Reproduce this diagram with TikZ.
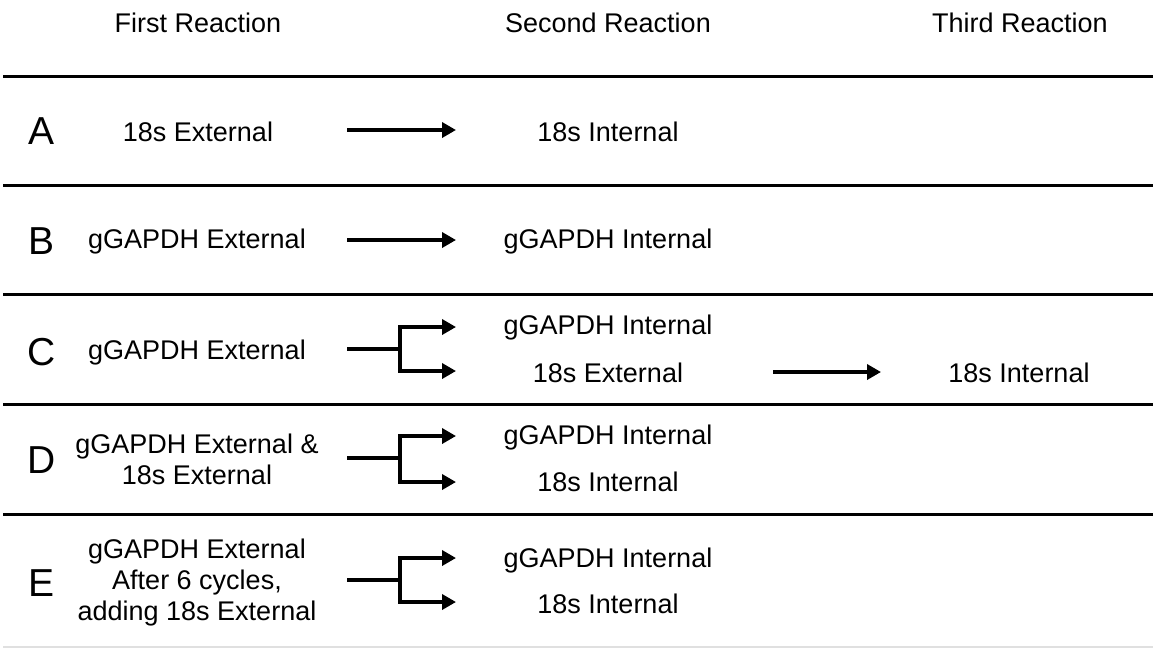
\documentclass[tikz,border=0pt]{standalone}
\usepackage{fontspec}
\setmainfont{Liberation Sans}
\usetikzlibrary{arrows.meta}
\definecolor{gris}{rgb}{0.88,0.88,0.88}

\begin{document}
\begin{tikzpicture}[x=1pt,y=-1pt]
	\tikzstyle{txt}=[font=\fontsize{27}{31}\selectfont, align=center, inner sep=0pt]
	\tikzstyle{lettre}=[font=\fontsize{39}{40}\selectfont, inner sep=0pt]
	\tikzstyle{regle}=[line width=3pt]
	\tikzstyle{fleche}=[line width=4.5pt, -{Triangle[length=14pt,width=15pt]}]
	\tikzstyle{branche}=[line width=4.5pt]

	\useasboundingbox (0,0) rectangle (1153,649);

	% TITRES
	\node[txt] (T1) at (198,23) {First Reaction};
	\node[txt] (T2) at (608,23) {Second Reaction};
	\node[txt] (T3) at (1020,23) {Third Reaction};

	% REGLES
	\draw[regle] (3,76) -- (1153,76);
	\draw[regle] (3,185) -- (1153,185);
	\draw[regle] (3,294) -- (1153,294);
	\draw[regle] (3,404) -- (1153,404);
	\draw[regle] (3,514) -- (1153,514);
	\draw[line width=2pt, gris] (3,647) -- (1153,647);

	% LETTRES
	\node[lettre] (LA) at (42,131) {A};
	\node[lettre] (LB) at (42,241) {B};
	\node[lettre] (LC) at (42,352) {C};
	\node[lettre] (LD) at (42,460) {D};
	\node[lettre] (LE) at (42,583) {E};

	% PREMIERE REACTION
	\node[txt] (A1) at (198,132) {18s External};
	\node[txt] (B1) at (197,242) {gGAPDH External};
	\node[txt] (C1) at (197,353) {gGAPDH External};
	\node[txt] (D1) at (197,459) {gGAPDH External \&\\18s External};
	\node[txt] (E1) at (197,583) {gGAPDH External\\After 6 cycles,\\adding 18s External};

	% DEUXIEME REACTION
	\node[txt] (A2) at (608,132) {18s Internal};
	\node[txt] (B2) at (608,242) {gGAPDH Internal};
	\node[txt] (C2a) at (608,328) {gGAPDH Internal};
	\node[txt] (C2b) at (608,373) {18s External};
	\node[txt] (D2a) at (608,438) {gGAPDH Internal};
	\node[txt] (D2b) at (608,482) {18s Internal};
	\node[txt] (E2a) at (608,561) {gGAPDH Internal};
	\node[txt] (E2b) at (608,604) {18s Internal};

	% TROISIEME REACTION
	\node[txt] (C3) at (1019,373) {18s Internal};

	% FLECHES
	\coordinate (pA) at (347,130);
	\coordinate (qA) at (456,130);
	\coordinate (pB) at (347,240);
	\coordinate (qB) at (456,240);
	\draw[fleche] (pA) -- (qA);
	\draw[fleche] (pB) -- (qB);

	\coordinate (pC) at (347,349);
	\coordinate (fC) at (400,349);
	\coordinate (qCa) at (456,327);
	\coordinate (qCb) at (456,371);
	\draw[branche] (pC) -- (fC);
	\draw[fleche] (fC) |- (qCa);
	\draw[fleche] (fC) |- (qCb);

	\coordinate (pD) at (347,458);
	\coordinate (fD) at (400,458);
	\coordinate (qDa) at (456,436);
	\coordinate (qDb) at (456,482);
	\draw[branche] (pD) -- (fD);
	\draw[fleche] (fD) |- (qDa);
	\draw[fleche] (fD) |- (qDb);

	\coordinate (pE) at (347,580);
	\coordinate (fE) at (400,580);
	\coordinate (qEa) at (456,558);
	\coordinate (qEb) at (456,602);
	\draw[branche] (pE) -- (fE);
	\draw[fleche] (fE) |- (qEa);
	\draw[fleche] (fE) |- (qEb);

	\coordinate (pC3) at (773,372);
	\coordinate (qC3) at (881,372);
	\draw[fleche] (pC3) -- (qC3);
\end{tikzpicture}
\end{document}
